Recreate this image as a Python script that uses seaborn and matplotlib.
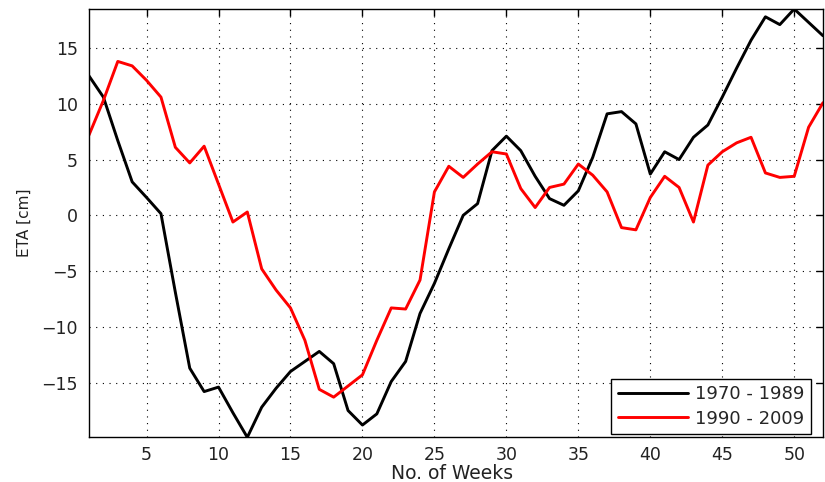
import numpy as np
import pandas as pd
import matplotlib
matplotlib.use("Agg")
import matplotlib.pyplot as plt
import seaborn as sns

weeks = list(range(1, 53))

eta_1970_1989 = [12.5, 10.6, 6.7, 3.0, 1.6, 0.15, -6.9, -13.7, -15.8, -15.4,
                 -17.7, -19.9, -17.2, -15.5, -14.0, -13.1, -12.2, -13.3, -17.5, -18.8,
                 -17.8, -14.9, -13.1, -8.8, -6.1, -3.0, 0.0, 1.05, 5.8, 7.1,
                 5.8, 3.5, 1.5, 0.9, 2.2, 5.2, 9.1, 9.3, 8.2, 3.7,
                 5.7, 5.0, 7.0, 8.1, 10.6, 13.2, 15.7, 17.8, 17.1, 18.5,
                 17.3, 16.1]

eta_1990_2009 = [7.2, 10.3, 13.8, 13.4, 12.1, 10.6, 6.1, 4.7, 6.2, 2.8,
                 -0.6, 0.3, -4.8, -6.7, -8.3, -11.2, -15.6, -16.3, -15.3, -14.3,
                 -11.2, -8.3, -8.4, -5.8, 2.1, 4.4, 3.4, 4.6, 5.7, 5.5,
                 2.4, 0.7, 2.5, 2.8, 4.6, 3.6, 2.1, -1.1, -1.3, 1.6,
                 3.5, 2.5, -0.6, 4.5, 5.7, 6.5, 7.0, 3.8, 3.4, 3.5,
                 7.9, 10.1]

series_labels = ["1970 - 1989", "1990 - 2009"]
xticks = [5, 10, 15, 20, 25, 30, 35, 40, 45, 50]
yticks = [-15, -10, -5, 0, 5, 10, 15]

df = pd.DataFrame({
    "week": weeks * 2,
    "eta": eta_1970_1989 + eta_1990_2009,
    "period": [series_labels[0]] * len(weeks) + [series_labels[1]] * len(weeks),
})

sns.set_style("white")
plt.rcParams["font.family"] = ["DejaVu Sans"]

fig = plt.figure(figsize=(8.25, 4.82), dpi=100)
ax = fig.add_axes([89 / 825, 1 - 437.3 / 482, (823 - 89) / 825, (437.3 - 9) / 482])

sns.lineplot(data=df, x="week", y="eta", hue="period",
             palette={series_labels[0]: "black", series_labels[1]: "#ff0000"},
             linewidth=2.1, ax=ax, legend=True)

ax.set_xlim(min(weeks), max(weeks))
all_vals = eta_1970_1989 + eta_1990_2009
ax.set_ylim(min(all_vals), max(all_vals))
ax.set_xticks(xticks)
ax.set_yticks(yticks)

ax.grid(True, linestyle=(0, (1, 5)), color="black", linewidth=0.8)
for s in ax.spines.values():
    s.set_color("black")
    s.set_linewidth(1.0)
    s.set_visible(True)

ax.tick_params(direction="in", length=5, width=1, top=True, right=True,
               labelsize=12.5, colors="black")
ax.tick_params(axis="x", pad=6)
ax.tick_params(axis="y", pad=8)
for lab in ax.get_xticklabels() + ax.get_yticklabels():
    lab.set_color("#222222")

ax.set_xlabel("No. of Weeks", fontsize=13.5, color="#222222")
ax.xaxis.set_label_coords(0.495, -0.062)
ax.set_ylabel("ETA [cm]", fontsize=11, color="#222222")
ax.yaxis.set_label_coords(-0.078, 0.5)

leg = ax.legend(loc="lower right", bbox_to_anchor=(0.9837, 0.0077),
                borderaxespad=0, fontsize=13, frameon=True, fancybox=False,
                handlelength=3.9, borderpad=0.35, labelspacing=0.35,
                handletextpad=0.4, framealpha=1)
leg.get_frame().set_edgecolor("black")
leg.get_frame().set_linewidth(1.0)
for line in leg.get_lines():
    line.set_linewidth(2.1)

fig.savefig("out.png", dpi=100)
